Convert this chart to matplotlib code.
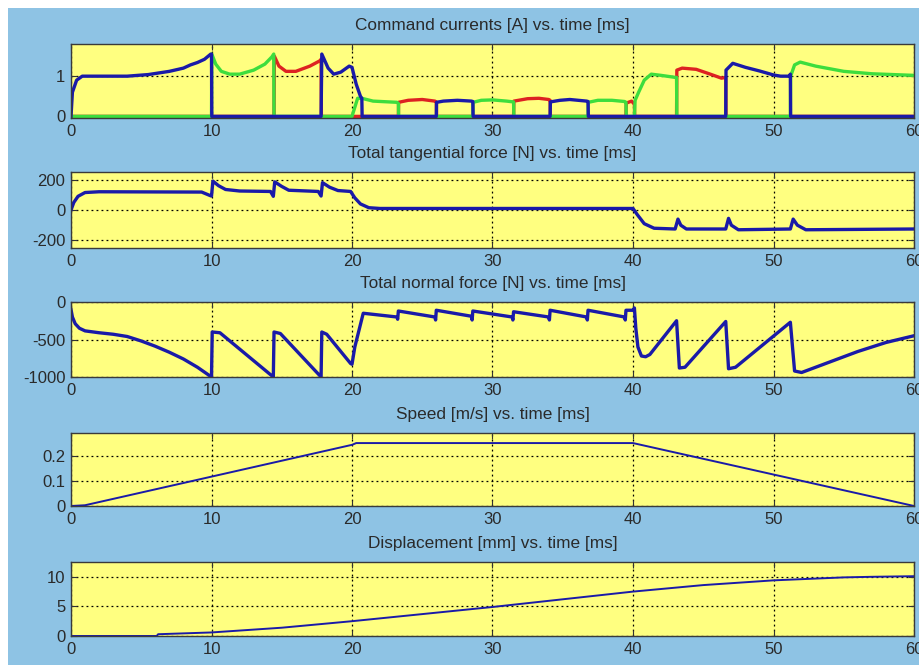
import matplotlib
matplotlib.use("Agg")
from matplotlib import pyplot as plt
from matplotlib.patches import Rectangle

# ---- data (time in ms) ----
# command currents [A], one phase per colour
blue_t = [0, 0.1, 0.4, 0.8, 2, 4, 5.5, 7, 8, 8.5, 9, 9.5, 9.95, 10.0, 10.02, 17.8, 17.85, 18.3,
          18.7, 19.2, 19.8, 20.0, 20.3, 20.6, 20.7, 20.72, 26.0, 26.02, 26.5, 27.5, 28.5, 28.6,
          28.62, 34.1, 34.12, 34.8, 35.5, 36.7, 36.8, 36.82, 46.6, 46.62, 47.1, 48, 49, 50,
          50.5, 51.1, 51.2, 51.22, 60]
blue_i = [0, 0.6, 0.9, 1.0, 1.0, 1.0, 1.04, 1.12, 1.2, 1.28, 1.34, 1.42, 1.55, 1.55, 0, 0, 1.55, 1.2,
          1.05, 1.1, 1.25, 1.22, 0.8, 0.5, 0.45, 0, 0, 0.35, 0.38, 0.4, 0.38, 0.37,
          0, 0, 0.36, 0.4, 0.42, 0.38, 0.37, 0, 0, 1.15, 1.32, 1.22, 1.13, 1.03,
          1.0, 1.0, 1.05, 0, 0]

green_t = [0, 10.0, 10.02, 10.3, 10.7, 11.3, 12, 13, 13.8, 14.3, 14.43, 14.45, 20.0, 20.4, 20.7,
           21.5, 23.2, 23.3, 23.32, 28.6, 28.62, 29.2, 30, 31, 31.5, 31.52, 36.8, 36.82, 37.5,
           38.5, 39.4, 39.5, 39.52, 40.1, 40.15, 40.4, 40.8, 41.3, 42, 43, 43.1, 43.12, 51.2,
           51.22, 51.5, 51.9, 53, 55, 57, 60]
green_i = [0, 0, 1.55, 1.3, 1.12, 1.05, 1.05, 1.15, 1.3, 1.48, 1.55, 0, 0, 0.45, 0.45,
           0.38, 0.35, 0.32, 0, 0, 0.35, 0.4, 0.41, 0.38, 0.36, 0, 0, 0.35, 0.4,
           0.4, 0.37, 0.35, 0, 0, 0.4, 0.6, 0.9, 1.05, 1.02, 0.97, 0.97, 0, 0,
           1.0, 1.28, 1.35, 1.25, 1.12, 1.06, 1.02]

red_t = [0, 14.45, 14.47, 14.8, 15.3, 16, 17, 17.7, 17.8, 17.82, 23.3, 23.32, 24, 25, 25.9, 26,
         26.02, 31.5, 31.52, 32.5, 33.3, 34, 34.1, 34.12, 39.5, 39.52, 39.9, 40.1, 40.12, 43.1,
         43.12, 43.5, 44.5, 45.5, 46.3, 46.6, 46.62, 60]
red_i = [0, 0, 1.5, 1.25, 1.12, 1.12, 1.25, 1.38, 1.42, 0, 0, 0.35, 0.4, 0.42, 0.38, 0.36,
         0, 0, 0.38, 0.44, 0.45, 0.42, 0.4, 0, 0, 0.33, 0.38, 0.3, 0, 0,
         1.15, 1.2, 1.17, 1.05, 0.95, 0.97, 0, 0]

# total tangential force [N]
tan_t = [0, 0.2, 0.5, 1, 2, 9.3, 9.9, 10, 10.1, 10.5, 11, 12, 14.2, 14.4, 14.5, 15, 15.5, 17.6,
         17.8, 17.9, 18.4, 19, 19.9, 20.2, 20.6, 21.2, 22, 40, 40.3, 40.8, 41.5, 43.0, 43.2,
         43.4, 43.8, 46.6, 46.8, 47, 47.5, 51.2, 51.4, 51.7, 52.3, 60]
tan_f = [0, 50, 90, 115, 120, 118, 95, 92, 190, 160, 135, 125, 122, 90, 185, 155, 130, 122,
         92, 180, 150, 128, 122, 80, 40, 15, 10, 10, -30, -90, -120, -125, -60,
         -100, -125, -125, -55, -100, -130, -125, -60, -100, -130, -125]

# total normal force [N]
nor_t = [0, 0.1, 0.3, 0.6, 1, 2, 3, 4, 5, 6, 7, 8, 9, 10, 10.05, 10.6, 14.4, 14.45, 14.9, 17.8,
         17.85, 18.2, 19.9, 20.0, 20.2, 20.4, 20.6, 20.8, 23.2, 23.25, 23.3, 25.9, 25.95, 26.0,
         28.5, 28.55, 28.6, 31.4, 31.45, 31.5, 34.0, 34.05, 34.1, 36.7, 36.75, 36.8, 39.4,
         39.45, 39.5, 40.0, 40.1, 40.2, 40.35, 40.6, 40.9, 41.2, 43.1, 43.3, 43.7, 46.6, 46.8,
         47.3, 51.2, 51.5, 52.0, 54, 56, 58, 60]
nor_f = [-100, -200, -290, -350, -385, -410, -430, -460, -520, -590, -670, -760, -870, -1000,
         -400, -410, -1000, -400, -420, -1000, -400, -430, -820, -830, -600, -450, -300, -150,
         -200, -230, -120, -200, -240, -110, -190, -240, -120, -200, -240, -130, -200, -240,
         -110, -200, -240, -110, -200, -240, -110, -110, -80, -350, -600, -720, -730, -700,
         -250, -880, -870, -260, -890, -870, -270, -920, -940, -800, -660, -540, -450]

# speed [m/s]
spd_t = [0, 1, 20, 20.3, 40, 60]
spd_v = [0, 0.003, 0.243, 0.25, 0.25, 0.0]

# displacement [mm]
dsp_t = [0, 6.1, 6.2, 10, 15, 20, 25, 30, 35, 40, 45, 50, 55, 57, 60]
dsp_x = [0, 0, 0.3, 0.6, 1.4, 2.5, 3.7, 4.9, 6.2, 7.5, 8.6, 9.4, 9.9, 10.0, 10.1]

titles = ['Command currents [A] vs. time [ms]',
          'Total tangential force [N] vs. time [ms]',
          'Total normal force [N] vs. time [ms]',
          'Speed [m/s] vs. time [ms]',
          'Displacement [mm] vs. time [ms]']
ylims = [(-0.04, 1.8), (-250, 250), (-1000, 0), (0, 0.29), (0, 12.5)]
yticks = [[0, 1], [-200, 0, 200], [-1000, -500, 0], [0, 0.1, 0.2], [0, 5, 10]]
ytlabels = [['0', '1'], ['-200', '0', '200'], ['-1000', '-500', '0'],
            ['0', '0.1', '0.2'], ['0', '5', '10']]
xticks = [0, 10, 20, 30, 40, 50, 60]

# ---- styling ----
bg = '#8ec3e4'
ax_bg = '#ffff80'
blue = '#1a1aa8'
green = '#3ddd3d'
red = '#dd2222'
txt = '#2a2a2a'
plt.rcParams['font.family'] = ['Liberation Sans', 'DejaVu Sans']

fig = plt.figure(figsize=(9.19, 6.65), dpi=100, facecolor='white')
# screenshot has a white strip on the top and left edges
fig.patches.append(Rectangle((8 / 919, 0), 1, 1 - 8 / 665, transform=fig.transFigure,
                             facecolor=bg, edgecolor='none', zorder=-10))

# axes boxes in pixels: (top, bottom)
boxes = [(44, 118), (172, 248), (302, 377), (433, 506), (562, 636)]
left, right = 71, 914

axes = []
for k, (top, bot) in enumerate(boxes):
    ax = fig.add_axes([left / 919, 1 - bot / 665, (right - left) / 919, (bot - top) / 665])
    ax.set_facecolor(ax_bg)
    ax.set_xlim(0, 60)
    ax.set_ylim(*ylims[k])
    ax.set_xticks(xticks)
    ax.set_yticks(yticks[k])
    ax.set_yticklabels(ytlabels[k])
    ax.grid(True, color='black', linestyle=(0, (1.5, 2.5)), linewidth=0.9)
    ax.tick_params(direction='in', length=4, width=0.8, top=True, right=True,
                   labelsize=12, labelcolor=txt, color='#333333', pad=4)
    for s in ax.spines.values():
        s.set_color('#3a3a3a')
        s.set_linewidth(1.0)
    ax.set_title(titles[k], fontsize=12.4, color=txt, pad=10)
    axes.append(ax)

lw = 2.4
axes[0].plot(red_t, red_i, color=red, lw=lw)
axes[0].plot(green_t, green_i, color=green, lw=lw)
axes[0].plot(blue_t, blue_i, color=blue, lw=lw)
axes[1].plot(tan_t, tan_f, color=blue, lw=lw)
axes[2].plot(nor_t, nor_f, color=blue, lw=lw)
axes[3].plot(spd_t, spd_v, color=blue, lw=1.4)
axes[4].plot(dsp_t, dsp_x, color=blue, lw=1.4)

fig.savefig('out.png', dpi=100, facecolor=fig.get_facecolor())
